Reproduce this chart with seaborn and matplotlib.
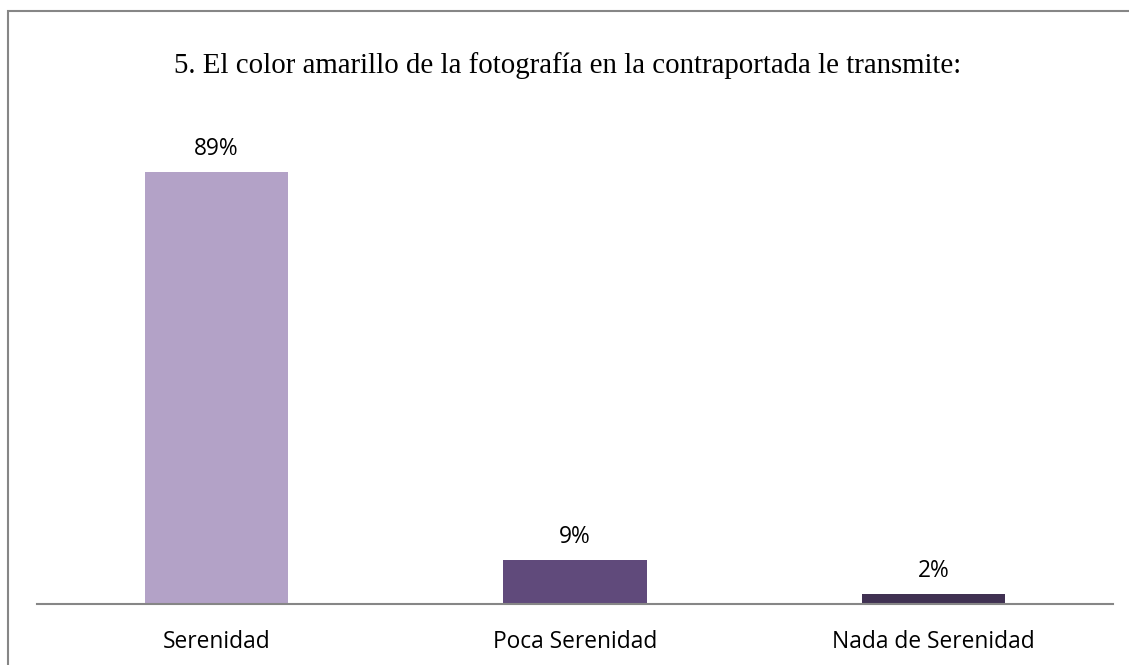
import matplotlib
matplotlib.use("Agg")
import matplotlib.pyplot as plt
import pandas as pd
import seaborn as sns
from matplotlib.patches import Rectangle

categorias = ["Serenidad", "Poca Serenidad", "Nada de Serenidad"]
porcentajes = [89, 9, 2]
etiquetas = ["89%", "9%", "2%"]
colores = ["#B3A2C7", "#604A7B", "#403152"]
titulo = "5. El color amarillo de la fotografía en la contraportada le transmite:"

sns.set_theme(style="white")
plt.rcParams["font.family"] = ["Open Sans", "DejaVu Sans"]

df = pd.DataFrame({"categoria": categorias, "valor": porcentajes})

W, H = 1129, 665
fig = plt.figure(figsize=(W / 100, H / 100), dpi=100)
ax = fig.add_axes([37 / W, 1 - 604 / H, (1113 - 37) / W, (604 - 119) / H])

sns.barplot(data=df, x="categoria", y="valor", hue="categoria",
            palette=colores, width=0.4, legend=False, saturation=1,
            linewidth=0, ax=ax)
ax.set_ylim(0, 100)
ax.set_xlim(-0.5, 2.5)

for i, (v, t) in enumerate(zip(porcentajes, etiquetas)):
    ax.annotate(t, (i, v), xytext=(0, 8), textcoords="offset points",
                ha="center", va="bottom", fontsize=16.4, color="#000000")

ax.set_xlabel("")
ax.set_ylabel("")
ax.set_yticks([])
ax.tick_params(axis="x", length=0, labelsize=16.4, pad=19, colors="#000000")
for s in ["top", "right", "left"]:
    ax.spines[s].set_visible(False)
ax.spines["bottom"].set_color("#868686")
ax.spines["bottom"].set_linewidth(1.5)

fig.text(568 / W, 1 - 66 / H, titulo, ha="center", va="center",
         fontsize=20.8, family="Liberation Serif", color="#000000")

# marco del gráfico
fig.patches.append(Rectangle((7.5 / W, -0.05), 1.2, 1 - 10.5 / H + 0.05,
                             transform=fig.transFigure, fill=False,
                             edgecolor="#868686", linewidth=1.5))

fig.savefig("out.png", dpi=100)
